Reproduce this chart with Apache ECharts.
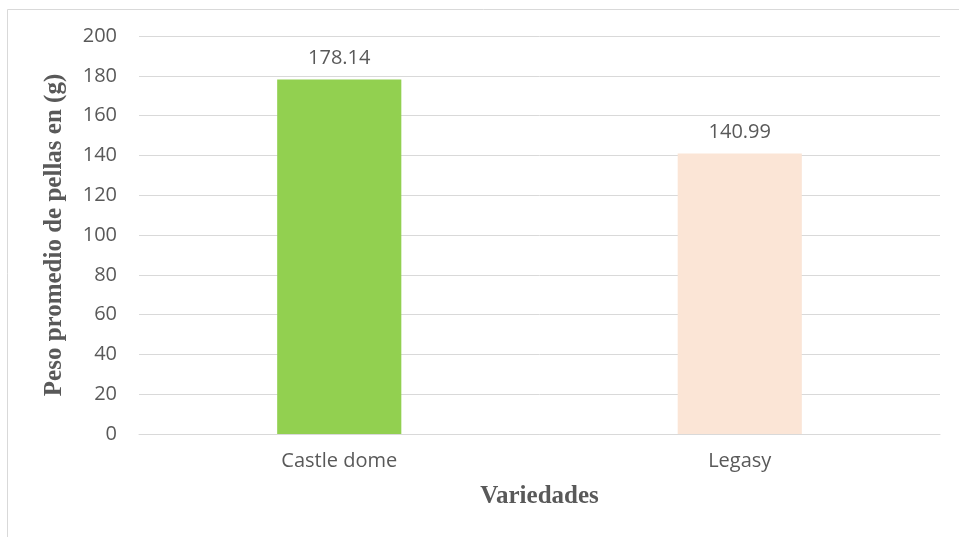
<!DOCTYPE html>
<html><head><meta charset="utf-8">
<script src="https://cdn.jsdelivr.net/npm/echarts@6/dist/echarts.min.js"></script>
<style>html,body{margin:0;padding:0;background:#fff}#c{width:959px;height:537px}</style>
</head><body><div id="c"></div>
<script>
const categories = ["Castle dome", "Legasy"];
const values = [178.14, 140.99];
const barColors = ["#92d050", "#fbe5d6"];
const yTicksMin = 0, yTicksMax = 200, yTickStep = 20;

const chart = echarts.init(document.getElementById('c'), null, {renderer: 'canvas'});
chart.setOption({
  animation: false,
  backgroundColor: '#fff',
  graphic: [{
    type: 'rect', shape: {x: 7.5, y: 9.5, width: 1000, height: 600},
    style: {fill: 'none', stroke: '#d9d9d9', lineWidth: 1}, silent: true
  }],
  grid: {left: 139, right: 19, top: 36, bottom: 103},
  xAxis: {
    type: 'category', data: categories,
    axisLine: {show: true, lineStyle: {color: '#d9d9d9', width: 1}},
    axisTick: {show: false},
    axisLabel: {color: '#595959', fontFamily: 'Open Sans', fontSize: 20, margin: 17},
    name: 'Variedades', nameLocation: 'middle', nameGap: 50,
    nameTextStyle: {color: '#595959', fontFamily: 'Liberation Serif', fontWeight: 'bold', fontSize: 25}
  },
  yAxis: {
    type: 'value', min: yTicksMin, max: yTicksMax, interval: yTickStep,
    axisLine: {show: false}, axisTick: {show: false},
    splitLine: {lineStyle: {color: '#d9d9d9', width: 1}},
    axisLabel: {color: '#595959', fontFamily: 'Open Sans', fontSize: 20, margin: 22},
    name: 'Peso promedio de pellas en (g)', nameLocation: 'middle', nameGap: 72,
    nameTextStyle: {color: '#595959', fontFamily: 'Liberation Serif', fontWeight: 'bold', fontSize: 25}
  },
  series: [{
    type: 'bar', barWidth: '31%',
    data: values.map((v, i) => ({value: v, itemStyle: {color: barColors[i]}})),
    label: {show: true, position: 'top', distance: 11, color: '#595959', fontFamily: 'Open Sans', fontSize: 20,
      formatter: p => p.value.toFixed(2)}
  }]
});
</script></body></html>
